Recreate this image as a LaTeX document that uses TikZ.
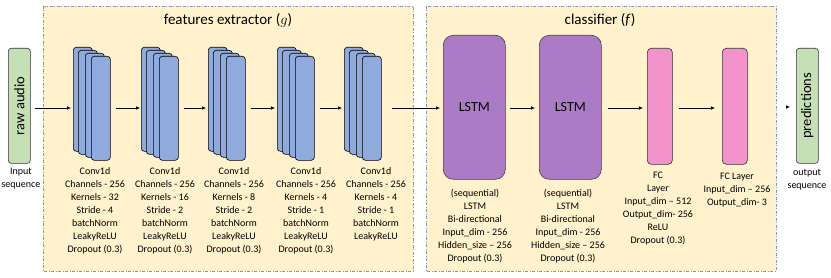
\documentclass[tikz,border=0pt]{standalone}
\usepackage{fontspec}
\setmainfont{Carlito}
\usetikzlibrary{arrows.meta}
\definecolor{bgy}{HTML}{FFF2CC}
\definecolor{panelline}{HTML}{8497B0}
\definecolor{convblue}{HTML}{8FAADC}
\definecolor{lstmpurple}{HTML}{AC7BC5}
\definecolor{fcpink}{HTML}{F294CB}
\definecolor{greenbox}{HTML}{C5E0B4}
\newcommand\ConvStack[2]{%
  \node[conv, anchor=north west] (#1a) at (#2,47) {};
  \node[conv, anchor=north west] (#1b) at (#2+5,50) {};
  \node[conv, anchor=north west] (#1c) at (#2+12,53) {};
  \node[conv, anchor=north west] (#1d) at (#2+18,56) {};
}
\begin{document}
\begin{tikzpicture}[x=1pt,y=-1pt,
  panel/.style={draw=panelline, fill=bgy, line width=0.7pt, dash pattern=on 3pt off 1.5pt on 1pt off 1.5pt},
  conv/.style={draw=black, fill=convblue, rounded corners=3pt, line width=0.6pt, minimum width=19pt, minimum height=104pt, inner sep=0pt},
  lstm/.style={draw=black!75, fill=lstmpurple, rounded corners=10pt, line width=0.6pt, minimum width=62pt, minimum height=144pt, inner sep=0pt, font=\fontsize{14}{16}\selectfont},
  fc/.style={draw=black!80, fill=fcpink, rounded corners=4pt, line width=0.6pt, minimum width=25pt, minimum height=116pt, inner sep=0pt},
  io/.style={draw=black!80, fill=greenbox, rounded corners=3pt, line width=0.6pt, minimum width=22pt, minimum height=115pt, inner sep=0pt, font=\fontsize{14.5}{16}\selectfont},
  desc/.style={align=center, anchor=north, inner sep=0pt, font=\fontsize{10}{13}\selectfont},
  ttl/.style={inner sep=0pt, font=\fontsize{15}{17}\selectfont},
  arr/.style={-{Latex[length=4pt,width=3.5pt]}, line width=0.5pt},
]
\useasboundingbox (0,0) rectangle (831,278);
\fill[white] (0,0) rectangle (831,278);
% panels
\draw[panel] (43,6) rectangle (413,271);
\draw[panel] (426,6) rectangle (776,271);
\node[ttl] (t1) at (228,20) {features extractor ($g$)};
\node[ttl] (t2) at (600,20) {classifier (\textit{f})};
% input / output
\node[io, anchor=north west] (raw) at (8,48) {\rotatebox{90}{raw audio}};
\node[io, anchor=north west] (pred) at (796,48) {\rotatebox{90}{predictions}};
\node[desc] (rawt) at (21,168) {Input\\sequence};
\node[desc] (predt) at (807,169) {output\\sequence};
% conv stacks
\ConvStack{sa}{73}
\ConvStack{sb}{141}
\ConvStack{sc}{208}
\ConvStack{sd}{277}
\ConvStack{se}{344}
\node[desc] (ta) at (95,167) {Conv1d\\Channels - 256\\Kernels - 32\\Stride - 4\\batchNorm\\LeakyReLU\\Dropout (0.3)};
\node[desc] (tb) at (165,167) {Conv1d\\Channels - 256\\Kernels - 16\\Stride - 2\\batchNorm\\LeakyReLU\\Dropout (0.3)};
\node[desc] (tc) at (234,167) {Conv1d\\Channels - 256\\Kernels - 8\\Stride - 2\\batchNorm\\LeakyReLU\\Dropout (0.3)};
\node[desc] (td) at (306,167) {Conv1d\\Channels - 256\\Kernels - 4\\Stride - 1\\batchNorm\\LeakyReLU\\Dropout (0.3)};
\node[desc] (te) at (376,167) {Conv1d\\Channels - 256\\Kernels - 4\\Stride - 1\\batchNorm\\LeakyReLU};
% classifier
\node[lstm, anchor=north west] (l1) at (443,35) {LSTM};
\node[lstm, anchor=north west] (l2) at (539,35) {LSTM};
\node[fc, anchor=north west] (f1) at (647,48) {};
\node[fc, anchor=north west] (f2) at (722,48) {};
\node[desc] (tl1) at (475,189) {(sequential)\\LSTM\\Bi-directional\\Input\_dim - 256\\Hidden\_size – 256\\Dropout (0.3)};
\node[desc] (tl2) at (568,189) {(sequential)\\LSTM\\Bi-directional\\Input\_dim - 256\\Hidden\_size – 256\\Dropout (0.3)};
\node[desc] (tf1) at (658,172) {FC\\Layer\\Input\_dim – 512\\Output\_dim- 256\\ReLU\\Dropout (0.3)};
\node[desc] (tf2) at (737,173) {FC Layer\\Input\_dim – 256\\Output\_dim- 3};
% arrows
\draw[arr, shorten <=4pt, shorten >=2pt] (raw.east |- 0,108) -- (saa.west |- 0,108);
\draw[arr, shorten <=5pt, shorten >=1pt] (sad.east |- 0,108) -- (sba.west |- 0,108);
\draw[arr, shorten <=5pt, shorten >=2pt] (sbd.east |- 0,108) -- (sca.west |- 0,108);
\draw[arr, shorten <=5pt, shorten >=2pt] (scd.east |- 0,108) -- (sda.west |- 0,108);
\draw[arr, shorten <=5pt, shorten >=2pt] (sdd.east |- 0,108) -- (sea.west |- 0,108);
\draw[arr, shorten <=10pt, shorten >=3pt] (sed.east |- 0,108) -- (l1.west |- 0,108);
\draw[arr, shorten <=4pt, shorten >=4pt] (l1.east |- 0,108) -- (l2.west |- 0,108);
\draw[arr, shorten <=6pt, shorten >=4pt] (l2.east |- 0,108) -- (f1.west |- 0,108);
\draw[arr, shorten <=6pt, shorten >=7pt] (f1.east |- 0,108) -- (f2.west |- 0,108);
\draw[arr, shorten <=39pt, shorten >=6pt] (f2.east |- 0,107) -- (pred.west |- 0,107);
\end{tikzpicture}
\end{document}
